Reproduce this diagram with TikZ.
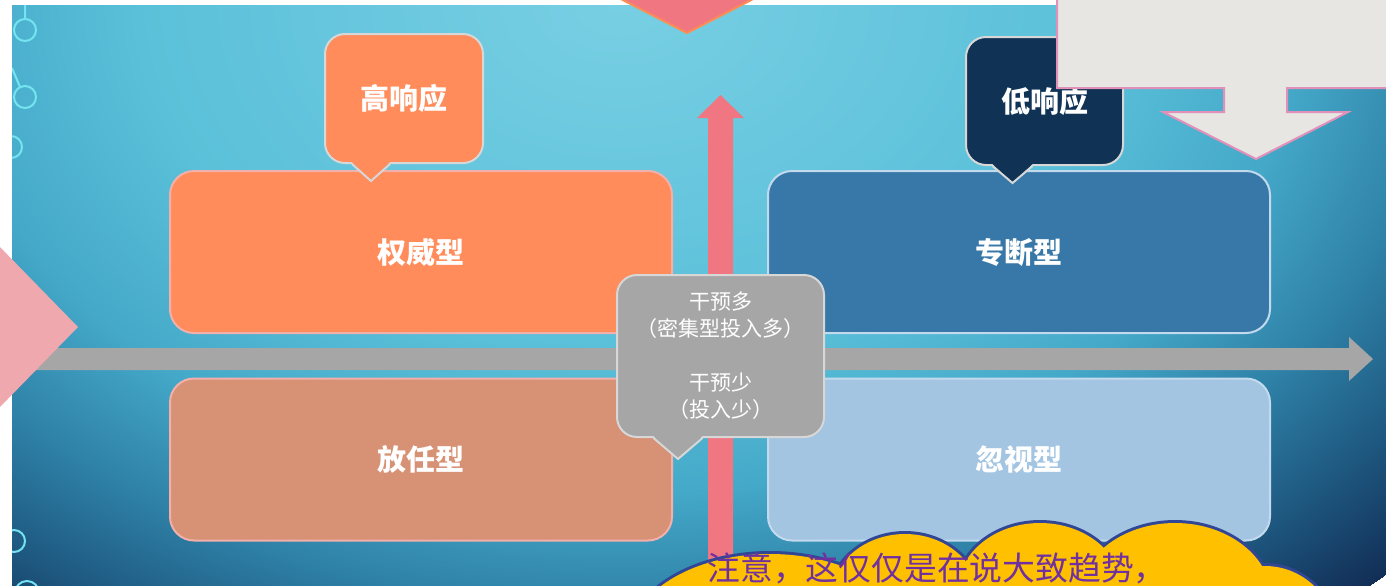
\documentclass[tikz,border=0pt]{standalone}
\usepackage{fontspec}
\setmainfont{Noto Sans CJK SC}
\usetikzlibrary{calc}

\definecolor{bgA}{RGB}{120,207,227}
\definecolor{bgB}{RGB}{90,192,217}
\definecolor{bgC}{RGB}{68,168,200}
\definecolor{bgD}{RGB}{46,128,166}
\definecolor{bgE}{RGB}{30,88,128}
\definecolor{bgF}{RGB}{18,46,86}
\definecolor{decoc}{RGB}{115,228,240}
\definecolor{orangeA}{RGB}{255,140,90}
\definecolor{blueA}{RGB}{55,120,168}
\definecolor{tanA}{RGB}{215,145,117}
\definecolor{skyA}{RGB}{163,197,226}
\definecolor{navyA}{RGB}{15,50,85}
\definecolor{grayA}{RGB}{166,166,166}
\definecolor{pinkline}{RGB}{243,175,170}
\definecolor{paleline}{RGB}{195,218,238}
\definecolor{tagline}{RGB}{215,215,215}
\definecolor{pinkA}{RGB}{240,168,175}
\definecolor{roseA}{RGB}{240,118,130}
\definecolor{orangeB}{RGB}{255,140,80}
\definecolor{paperA}{RGB}{231,230,226}
\definecolor{paperline}{RGB}{225,145,185}
\definecolor{cloudA}{RGB}{255,192,0}
\definecolor{cloudline}{RGB}{50,70,150}
\definecolor{purpleA}{RGB}{112,48,160}

\pgfdeclareradialshading{slidebg}{\pgfpoint{0bp}{0bp}}{color(0bp)=(bgA); color(22bp)=(bgB); color(31bp)=(bgC); color(38bp)=(bgD); color(44bp)=(bgE); color(50bp)=(bgF)}

% pointer under a tag: node, fill, left dx, right dx, depth
\newcommand{\tagtip}[5]{%
  \fill[#2] ($(#1.south)+(#3,-2)$) -- ($(#1.south)+({(#3+#4)/2},#5)$) -- ($(#1.south)+(#4,-2)$) -- cycle;
  \draw[tagline, line width=1pt] ($(#1.south)+(#3,0)$) -- ($(#1.south)+({(#3+#4)/2},#5)$) -- ($(#1.south)+(#4,0)$);
}

\begin{document}
\begin{tikzpicture}[x=0.5pt, y=-0.5pt,
  quad/.style={rounded corners=12pt, minimum width=251pt, minimum height=81pt,
    line width=1pt, text=white, font=\fontsize{14.5}{17}\selectfont\bfseries},
  tag/.style={rounded corners=10pt, draw=tagline, line width=1pt, text=white},
  deco/.style={draw=decoc, line width=1pt}]
\clip (0,0) rectangle (1386,585);
\fill[white] (0,0) rectangle (1386,585);

% slide background
\begin{scope}
  \clip (12,5) rectangle (1386,590);
  \begin{scope}[transform canvas={shift={(620,0)}, xscale=10.96, yscale=7.97}]
    \pgftext{\pgfuseshading{slidebg}}
  \end{scope}
  \draw[deco] (25,5) -- (25,19) (25,30) circle[radius=11];
  \draw[deco] (12,68) -- (20,87) (25,97) circle[radius=11];
  \draw[deco] (11,147) circle[radius=11];
  \draw[deco] (14,541) circle[radius=11];
  \draw[deco] (27,593) circle[radius=12];
\end{scope}

% axes
\fill[grayA] (15,348) -- (1349,348) -- (1349,337) -- (1373,359) -- (1349,381) -- (1349,370) -- (15,370) -- cycle;
\fill[roseA] (708,590) -- (708,118) -- (697,118) -- (720.5,95) -- (744,118) -- (733,118) -- (733,590) -- cycle;

% four styles
\node[quad, fill=orangeA, draw=pinkline] (auth) at (421,252) {权威型};
\node[quad, fill=blueA, draw=paleline] (dict) at (1019,252) {专断型};
\node[quad, fill=tanA, draw=pinkline] (lax) at (421,459.5) {放任型};
\node[quad, fill=skyA, draw=paleline] (negl) at (1019,459.5) {忽视型};

% tags
\node[tag, fill=orangeA, minimum width=79pt, minimum height=64.5pt,
  font=\fontsize{14.5}{17}\selectfont\bfseries] (hi) at (404,98.5) {高响应};
\tagtip{hi}{orangeA}{-52}{-14}{17}
\node[tag, fill=navyA, minimum width=78.5pt, minimum height=64pt,
  font=\fontsize{14.5}{17}\selectfont\bfseries] (lo) at (1044.5,101) {低响应};
\tagtip{lo}{navyA}{-52}{-12}{17}
\node[tag, fill=grayA, minimum width=103.5pt, minimum height=81pt, align=center,
  font=\fontsize{10.5}{13.5}\selectfont] (mid) at (720.5,356)
  {干预多\\（密集型投入多）\\[13.5pt]干预少\\（投入少）};
\tagtip{mid}{grayA}{-67}{-18}{21}

% slide leftovers
\fill[pinkA] (-2,245) -- (78,327) -- (-2,409) -- cycle;
\filldraw[fill=roseA, draw=orangeB, line width=1pt] (615,-4) -- (687,33) -- (759,-4) -- cycle;
\filldraw[fill=paperA, draw=paperline, line width=1pt] (1057,-5) -- (1057,88) -- (1224,88)
  -- (1224,112) -- (1163,112) -- (1256,159) -- (1348,112) -- (1287,112) -- (1287,88)
  -- (1392,88) -- (1392,-5) -- cycle;

% cloud
\foreach \cx/\cy/\rx/\ry in {770/640/140/86, 905/600/75/66, 1040/590/82/67, 1175/600/97/77, 1265/640/72/74}
  \draw[cloudline, line width=3pt] (\cx,\cy) ellipse[x radius=\rx, y radius=\ry];
\foreach \cx/\cy/\rx/\ry in {770/640/140/86, 905/600/75/66, 1040/590/82/67, 1175/600/97/77, 1265/640/72/74}
  \fill[cloudA] (\cx,\cy) ellipse[x radius=\rx, y radius=\ry];
\node[anchor=west, text=purpleA, inner sep=0pt, font=\fontsize{16.4}{19}\selectfont] (note) at (707,568)
  {注意，这仅仅是在说大致趋势，};
\end{tikzpicture}
\end{document}
